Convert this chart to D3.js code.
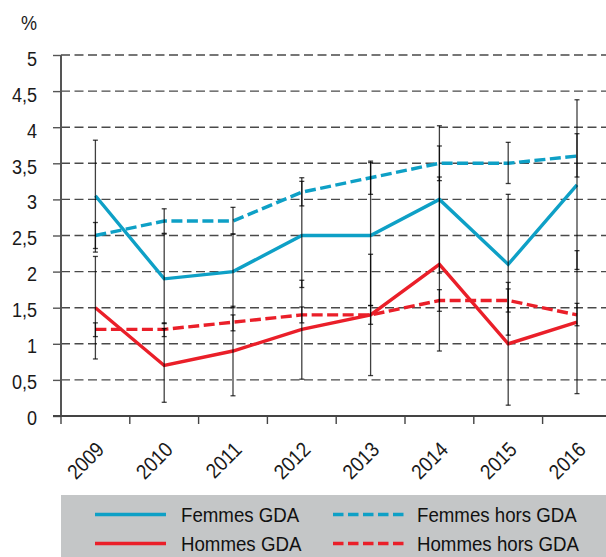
<!DOCTYPE html>
<html><head><meta charset="utf-8">
<script src="https://cdn.jsdelivr.net/npm/d3@7"></script>
<style>
html,body{margin:0;padding:0;background:#fff;}
svg{display:block;font-family:"Liberation Sans",Arial,sans-serif;}
</style></head>
<body><svg id="c" width="606" height="557"></svg>
<script>
const years = ["2009","2010","2011","2012","2013","2014","2015","2016"];
const yTicks = [0,0.5,1,1.5,2,2.5,3,3.5,4,4.5,5];
const yTickLabels = ["0","0,5","1","1,5","2","2,5","3","3,5","4","4,5","5"];
const femmesGDA     = [3.05,1.9,2.0,2.5,2.5,3.0,2.1,3.2];
const femmesHorsGDA = [2.5,2.7,2.7,3.1,3.3,3.5,3.5,3.6];
const hommesGDA     = [1.5,0.7,0.9,1.2,1.4,2.1,1.0,1.3];
const hommesHorsGDA = [1.2,1.2,1.3,1.4,1.4,1.6,1.6,1.4];
const femmesGDALow      = [2.27,1.28,1.50,1.78,1.53,1.98,1.12,2.03];
const femmesGDAHigh     = [3.82,2.52,2.52,3.25,3.51,4.02,3.07,4.38];
const femmesHorsGDALow  = [2.32,2.53,2.52,2.91,3.07,3.26,3.22,3.31];
const femmesHorsGDAHigh = [2.68,2.87,2.89,3.30,3.53,3.74,3.79,3.91];
const hommesGDALow      = [0.79,0.19,0.28,0.51,0.56,0.90,0.15,0.31];
const hommesGDAHigh     = [2.21,1.21,1.52,1.88,2.24,3.31,1.85,2.29];
const hommesHorsGDALow  = [1.10,1.10,1.18,1.29,1.27,1.45,1.44,1.25];
const hommesHorsGDAHigh = [1.29,1.29,1.40,1.51,1.53,1.75,1.76,1.56];
const seriesNames = ["Femmes GDA","Femmes hors GDA","Hommes GDA","Hommes hors GDA"];

const BLUE = "#0ea0c6", RED = "#ea1f29";
const SX = 0.89; // horizontal condensing of the text
const series = [
  {name: seriesNames[0], vals: femmesGDA, lo: femmesGDALow, hi: femmesGDAHigh, color: BLUE, dash: null},
  {name: seriesNames[1], vals: femmesHorsGDA, lo: femmesHorsGDALow, hi: femmesHorsGDAHigh, color: BLUE, dash: "11,4.5"},
  {name: seriesNames[2], vals: hommesGDA, lo: hommesGDALow, hi: hommesGDAHigh, color: RED, dash: null},
  {name: seriesNames[3], vals: hommesHorsGDA, lo: hommesHorsGDALow, hi: hommesHorsGDAHigh, color: RED, dash: "11,4.5"}
];

const svg = d3.select("#c");
const x0 = 61, bw = 68.8;
const x = d3.scaleBand().domain(years).range([x0, x0 + bw*years.length]).padding(0);
const y = d3.scaleLinear().domain([0,5]).range([416, 55]);
const cx = d => x(d) + x.bandwidth()/2;

// gridlines
svg.append("g").selectAll("line").data(yTicks.filter(v => v > 0)).join("line")
  .attr("x1", x0).attr("x2", 606).attr("y1", d => y(d)).attr("y2", d => y(d))
  .attr("stroke", "#4a4a4a").attr("stroke-width", 1.4).attr("stroke-dasharray", "9,4.5");

// y axis
const yAxis = d3.axisLeft(y).tickValues(yTicks).tickSize(8).tickFormat((d,i) => yTickLabels[i]);
const gy = svg.append("g").attr("transform", `translate(${x0},0)`).call(yAxis);
gy.select(".domain").attr("stroke", "#555").attr("stroke-width", 2).attr("d", `M0,${y(5)}V${y(0)}`);
gy.selectAll(".tick line").attr("stroke", "#555").attr("stroke-width", 1.4);
gy.selectAll(".tick text").attr("x", null).attr("dy", null)
  .attr("transform", d => `translate(-24,${8 + d*0.5}) scale(0.86,1)`)
  .attr("font-size", 21).attr("fill", "#1a1a1a")
  .attr("font-family", '"Liberation Sans",Arial,sans-serif');

svg.append("text").attr("transform", `translate(37,30) scale(0.86,1)`).attr("text-anchor", "end")
  .attr("font-size", 21).attr("fill", "#1a1a1a").text("%");

// x axis
const gx = svg.append("g").attr("transform", `translate(0,${y(0)})`);
gx.append("line").attr("x1", 53).attr("x2", 606).attr("y1", 0).attr("y2", 0)
  .attr("stroke", "#444").attr("stroke-width", 2);
gx.selectAll("line.tk").data(years).join("line").attr("class","tk")
  .attr("x1", d => x(d)).attr("x2", d => x(d)).attr("y1", 0).attr("y2", 8)
  .attr("stroke", "#444").attr("stroke-width", 1.4);
gx.selectAll("text").data(years).join("text")
  .attr("transform", d => `translate(${cx(d)+10},${35}) rotate(-45) scale(${SX},1)`)
  .attr("text-anchor", "end").attr("font-size", 21).attr("fill", "#1a1a1a").text(d => d);

// lines
const line = d3.line().x((d,i) => cx(years[i])).y(d => y(d));
series.forEach(s => {
  svg.append("path").attr("d", line(s.vals)).attr("fill", "none")
    .attr("stroke", s.color).attr("stroke-width", 3.4)
    .attr("stroke-dasharray", s.dash).attr("stroke-linejoin", "miter");
});

// error bars
const eb = svg.append("g").attr("stroke", "#000").attr("stroke-opacity", 0.75).attr("stroke-width", 1.3);
series.forEach(s => {
  years.forEach((yr, i) => {
    const xc = cx(yr);
    eb.append("line").attr("x1", xc).attr("x2", xc).attr("y1", y(s.lo[i])).attr("y2", y(s.hi[i]));
    eb.append("line").attr("x1", xc-2.5).attr("x2", xc+2.5).attr("y1", y(s.lo[i])).attr("y2", y(s.lo[i]));
    eb.append("line").attr("x1", xc-2.5).attr("x2", xc+2.5).attr("y1", y(s.hi[i])).attr("y2", y(s.hi[i]));
  });
});

// legend
const lg = svg.append("g");
lg.append("rect").attr("x", 61).attr("y", 495).attr("width", 545).attr("height", 62).attr("fill", "#c4c6c7");
const legPos = [
  {lx: 95, tx: 181, ly: 514.5},
  {lx: 333, tx: 417, ly: 514.5},
  {lx: 95, tx: 181, ly: 543.5},
  {lx: 333, tx: 417, ly: 543.5}
];
series.forEach((s, i) => {
  const p = legPos[i];
  lg.append("line").attr("x1", p.lx).attr("x2", p.lx + 71).attr("y1", p.ly).attr("y2", p.ly)
    .attr("stroke", s.color).attr("stroke-width", 3.5)
    .attr("stroke-dasharray", s.dash ? "10.5,4.5" : null);
  lg.append("text").attr("transform", `translate(${p.tx},${p.ly + 7.5}) scale(${SX},1)`)
    .attr("font-size", 21).attr("fill", "#111").text(s.name);
});
</script></body></html>
